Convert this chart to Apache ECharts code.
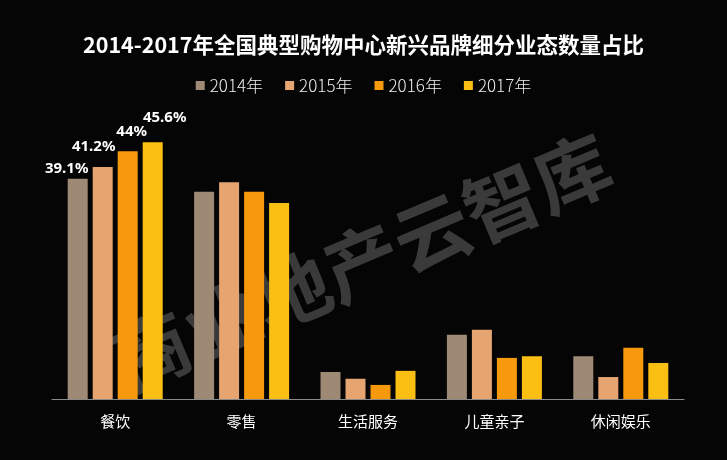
<!DOCTYPE html>
<html>
<head>
<meta charset="utf-8">
<script src="https://cdn.jsdelivr.net/npm/echarts@6/dist/echarts.min.js"></script>
<style>
html, body { margin: 0; padding: 0; background: #050505; }
#chart { width: 727px; height: 460px; }
</style>
</head>
<body>
<div id="chart"></div>
<script>
// 数据
const categories = ["餐饮", "零售", "生活服务", "儿童亲子", "休闲娱乐"];
const years = ["2014年", "2015年", "2016年", "2017年"];
const v2014 = [39.1, 36.8, 4.8, 11.4, 7.6];
const v2015 = [41.2, 38.5, 3.6, 12.3, 3.9];
const v2016 = [44, 36.8, 2.5, 7.3, 9.1];
const v2017 = [45.6, 34.8, 5.0, 7.6, 6.4];
const colors = ["#9e8a74", "#e6a570", "#f7990c", "#fbbf14"];
// 只有餐饮一组显示标签
const labelOffsets = [[-11, 2], [-9, -8], [4, -7], [12, -12]];

const chart = echarts.init(document.getElementById("chart"));

const seriesData = [v2014, v2015, v2016, v2017];
const series = seriesData.map(function (vals, i) {
	return {
		name: years[i],
		type: "bar",
		barWidth: 20,
		barGap: "25%",
		itemStyle: { color: colors[i] },
		data: vals.map(function (v, j) {
			if (j !== 0) return v;
			return {
				value: v,
				label: {
					show: true,
					position: "top",
					offset: labelOffsets[i],
					formatter: v + "%",
					color: "#ffffff",
					fontSize: 15,
					fontWeight: "bold",
					fontFamily: "Noto Sans"
				}
			};
		})
	};
});

chart.setOption({
	backgroundColor: "#050505",
	animation: false,
	title: {
		text: "2014-2017年全国典型购物中心新兴品牌细分业态数量占比",
		left: "center",
		top: 29,
		textStyle: {
			color: "#ffffff",
			fontSize: 21.5,
			fontWeight: "bold",
			fontFamily: "Noto Sans CJK SC"
		}
	},
	legend: {
		top: 72,
		left: "center",
		itemWidth: 9,
		itemHeight: 9,
		itemGap: 22,
		icon: "rect",
		textStyle: {
			color: "#eeeeee",
			fontSize: 17,
			fontFamily: "Noto Sans CJK SC",
			fontWeight: 300
		},
		data: years
	},
	graphic: [{
		type: "text",
		x: 362,
		y: 262,
		rotation: 0.4,
		z: -1,
		style: {
			text: "商业地产云智库",
			fill: "#3a3a3a",
			font: "bold 76px 'Noto Sans CJK SC'",
			align: "center",
			verticalAlign: "middle"
		}
	}],
	grid: { left: 52, right: 43, top: 117.5, bottom: 61 },
	xAxis: {
		type: "category",
		data: categories,
		axisLine: { lineStyle: { color: "#8a8a8a", width: 1 } },
		axisTick: { show: false },
		axisLabel: {
			color: "#ffffff",
			fontSize: 15,
			margin: 15,
			fontFamily: "Noto Sans CJK SC"
		}
	},
	yAxis: {
		type: "value",
		min: 0,
		max: 50,
		show: false,
		splitLine: { show: false }
	},
	series: series
});
</script>
</body>
</html>
